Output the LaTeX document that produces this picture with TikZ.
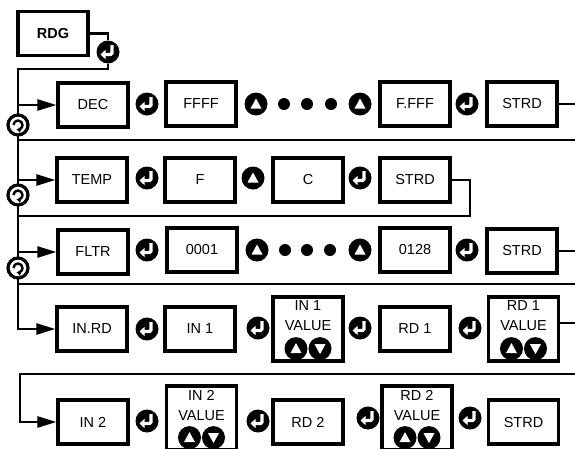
\documentclass[tikz,border=0pt]{standalone}
\usepackage{fontspec}
\setmainfont{Liberation Sans}
\usepackage{tikz}
\usetikzlibrary{positioning,calc}
\usetikzlibrary{arrows.meta}
\tikzset{
  keybox/.style={draw=black,line width=3.2pt,minimum width=70pt,minimum height=44pt,inner sep=0pt,
    font=\fontsize{14.5}{20}\selectfont},
  valbox/.style={keybox,minimum height=64pt,align=center},
  wire/.style={draw=black,line width=2.5pt},
  feed/.style={wire,-{Triangle[length=19pt,width=11pt]}},
}
\tikzset{dot/.style={circle,fill=black,inner sep=0pt,minimum size=12pt},
  enterkey/.style={circle,fill=black,inner sep=0pt,minimum size=23pt,path picture={
    \draw[white,line width=3.2pt,rounded corners=1.5pt,-{Triangle[length=5pt,width=9pt]}]
      ([xshift=4pt,yshift=7pt]path picture bounding box.center) |- ([xshift=-7.5pt,yshift=-2.5pt]path picture bounding box.center);}},
  upkey/.style={circle,fill=black,inner sep=0pt,minimum size=23pt,path picture={
    \fill[white] ([yshift=5.5pt]path picture bounding box.center) -- ([xshift=-5.5pt,yshift=-4.5pt]path picture bounding box.center)
      -- ([xshift=5.5pt,yshift=-4.5pt]path picture bounding box.center) -- cycle;}},
  downkey/.style={circle,fill=black,inner sep=0pt,minimum size=23pt,path picture={
    \fill[white] ([yshift=-5.5pt]path picture bounding box.center) -- ([xshift=-5.5pt,yshift=4.5pt]path picture bounding box.center)
      -- ([xshift=5.5pt,yshift=4.5pt]path picture bounding box.center) -- cycle;}},
  loopkey/.style={circle,draw=black,fill=white,line width=3.2pt,inner sep=0pt,minimum size=20pt,path picture={
    \draw[black,line width=2.4pt,-{Triangle[length=3.5pt,width=6pt]}]
      ([xshift=-4.5pt]path picture bounding box.center) arc[start angle=180,end angle=-100,radius=4.5pt];}}}

\begin{document}
\begin{tikzpicture}[x=1pt,y=-1pt]
\useasboundingbox (0,0) rectangle (575,448);
\coordinate (t0) at (18,69);
\coordinate (t1) at (18,105);
\coordinate (t2) at (18,180);
\coordinate (t3) at (18,252);
\coordinate (s1a) at (18,140);
\coordinate (s1b) at (575,140);
\coordinate (s2a) at (18,216);
\coordinate (s2b) at (470,216);
\coordinate (s3a) at (18,284);
\coordinate (s3b) at (575,284);
\coordinate (s4a) at (20,374);
\coordinate (s4b) at (575,374);
\coordinate (r1) at (575,104);
\coordinate (r3) at (575,251);
\coordinate (r4) at (575,323);
\node[keybox,font=\fontsize{14.5}{20}\selectfont\bfseries] (rdg) at (53,33.5) {RDG};
\node[enterkey] (e0) at (108,52) {};
\node[keybox] (dec) at (93,105) {DEC};
\node[enterkey] (e1a) at (147,104) {};
\node[keybox] (ffff) at (201,104) {FFFF};
\node[upkey] (u1a) at (256,104) {};
\node[dot] (d1a) at (284,104) {};
\node[dot] (d1b) at (307,104) {};
\node[dot] (d1c) at (331,104) {};
\node[upkey] (u1b) at (360,104) {};
\node[keybox] (ffff2) at (415,104) {F.FFF};
\node[enterkey] (e1b) at (467,104) {};
\node[keybox] (strd1) at (522,104) {STRD};
\node[keybox] (temp) at (92,180) {TEMP};
\node[enterkey] (e2a) at (147,178) {};
\node[keybox] (degf) at (200,180) {F};
\node[upkey] (u2) at (253,178) {};
\node[keybox] (degc) at (308,180) {C};
\node[enterkey] (e2b) at (360,178) {};
\node[keybox] (strd2) at (415,180) {STRD};
\node[keybox] (fltr) at (93,252) {FLTR};
\node[enterkey] (e3a) at (147,250) {};
\node[keybox] (f0001) at (202,250) {0001};
\node[upkey] (u3a) at (257,250) {};
\node[dot] (d3a) at (285,250) {};
\node[dot] (d3b) at (307,250) {};
\node[dot] (d3c) at (330,250) {};
\node[upkey] (u3b) at (360,250) {};
\node[keybox] (f0128) at (415,250) {0128};
\node[enterkey] (e3b) at (467,250) {};
\node[keybox] (strd3) at (522,251) {STRD};
\node[keybox] (inrd) at (92,329) {IN.RD};
\node[enterkey] (e4a) at (147,329) {};
\node[keybox] (in1) at (200,329) {IN 1};
\node[enterkey] (e4b) at (258,328) {};
\node[valbox] (iv1) at (308,329) {IN 1\\VALUE\\\strut};
\node[upkey] (iv1u) at ($(iv1.south)+(-12,-14)$) {};
\node[downkey] (iv1d) at ($(iv1.south)+(12,-14)$) {};
\node[enterkey] (e4c) at (360,328) {};
\node[keybox] (rd1) at (415,329) {RD 1};
\node[enterkey] (e4d) at (470,328) {};
\node[valbox] (rv1) at (523.5,329) {RD 1\\VALUE\\\strut};
\node[upkey] (rv1u) at ($(rv1.south)+(-12,-14)$) {};
\node[downkey] (rv1d) at ($(rv1.south)+(12,-14)$) {};
\node[keybox] (in2) at (93,422) {IN 2};
\node[enterkey] (e5a) at (147,421) {};
\node[valbox] (iv2) at (201.5,418) {IN 2\\VALUE\\\strut};
\node[upkey] (iv2u) at ($(iv2.south)+(-12,-14)$) {};
\node[downkey] (iv2d) at ($(iv2.south)+(12,-14)$) {};
\node[enterkey] (e5b) at (258,421) {};
\node[keybox] (rd2) at (308,422) {RD 2};
\node[enterkey] (e5c) at (368,418) {};
\node[valbox] (rv2) at (417,418) {RD 2\\VALUE\\\strut};
\node[upkey] (rv2u) at ($(rv2.south)+(-12,-14)$) {};
\node[downkey] (rv2d) at ($(rv2.south)+(12,-14)$) {};
\node[enterkey] (e5d) at (470,418) {};
\node[keybox] (strd5) at (523.5,422) {STRD};
\draw[wire] (rdg.east) -| (e0.north);
\draw[feed] (e0.south) |- (t0) |- (inrd.west);
\draw[feed] (t1) -- (dec.west);
\draw[feed] (t2) -- (temp.west);
\draw[feed] (t3) -- (fltr.west);
\draw[wire] (strd1.east) -- (r1);
\draw[wire] (s1a) -- (s1b);
\draw[wire] (strd2.east) -| (s2b) -- (s2a);
\draw[wire] (strd3.east) -- (r3);
\draw[wire] (s3a) -- (s3b);
\draw[wire] (rv1.east |- r4) -- (r4);
\draw[feed] (s4b) -- (s4a) |- (in2.west);
\node[loopkey] (l1) at (18,125) {};
\node[loopkey] (l2) at (18,195) {};
\node[loopkey] (l3) at (18,268) {};
\end{tikzpicture}
\end{document}
